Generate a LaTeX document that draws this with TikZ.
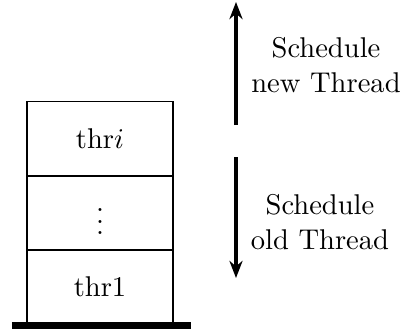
\documentclass[tikz,border=0pt]{standalone}
\usetikzlibrary{arrows.meta}
\begin{document}
\begin{tikzpicture}[x=0.35pt,y=-0.35pt,
  slot/.style={draw, line width=0.45pt, minimum width=51.1pt, minimum height=25.9pt, inner sep=0pt},
  sched/.style={line width=1.3pt, -{Stealth[length=6pt,width=4.6pt]}},
  note/.style={align=center, inner sep=0pt}]
  \useasboundingbox (0,0) rectangle (401,331);
  % stack of thread slots
  \node[slot] (top) at (100,138.5) {thr$i$};
  \node[slot] (mid) at (100,213) {$\vdots$};
  \node[slot] (bot) at (100,287) {thr1};
  % base of the stack
  \coordinate (bl) at (12,325.5);
  \coordinate (br) at (191,325.5);
  \draw[line width=2.5pt] (bl) -- (br);
  % scheduling directions
  \coordinate (ua) at (236,125);
  \coordinate (ub) at (236,2);
  \coordinate (da) at (236,157);
  \coordinate (db) at (236,278);
  \draw[sched] (ua) -- (ub);
  \draw[sched] (da) -- (db);
  \node[note] (newt) at (326,65) {Schedule\\new Thread};
  \node[note] (oldt) at (320,222) {Schedule\\old Thread};
\end{tikzpicture}
\end{document}
